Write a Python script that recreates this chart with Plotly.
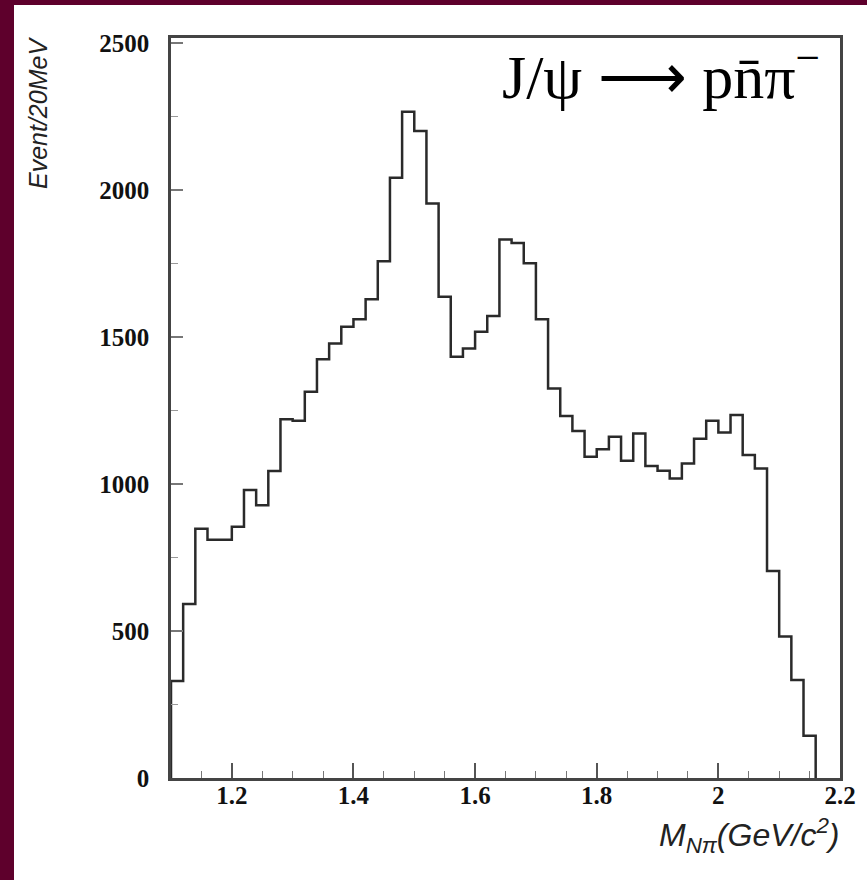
import plotly.graph_objects as go

# Histogram: J/psi -> p nbar pi-, M(N pi) spectrum, 20 MeV bins
BIN_START = 1.10
BIN_WIDTH = 0.02
counts = [330, 592, 848, 810, 810, 855, 980, 928, 1044, 1220,
          1215, 1314, 1424, 1478, 1535, 1560, 1628, 1758, 2042, 2266,
          2201, 1954, 1637, 1433, 1461, 1518, 1571, 1832, 1820, 1751,
          1560, 1325, 1231, 1180, 1093, 1118, 1161, 1079, 1172, 1061,
          1045, 1019, 1070, 1154, 1215, 1175, 1235, 1099, 1053, 704,
          481, 333, 144]

x_ticks = [1.2, 1.4, 1.6, 1.8, 2.0, 2.2]
x_tick_text = ["1.2", "1.4", "1.6", "1.8", "2", "2.2"]
y_ticks = [0, 500, 1000, 1500, 2000, 2500]

edges = [round(BIN_START + BIN_WIDTH * i, 2) for i in range(len(counts) + 1)]
xs = [edges[0]] + edges + [edges[-1]]
ys = [0] + counts + [counts[-1], 0]

W, H = 867, 880
L, R, T, B = 171, 27, 38, 102
pw, ph = W - L - R, H - T - B

def px(xp):
    return (xp - L) / pw

def py(yp):
    return (H - B - yp) / ph

fig = go.Figure()
fig.add_trace(go.Scatter(
    x=xs, y=ys, mode="lines", line=dict(color="#2a2a2a", width=2.5, shape="hv"),
    hoverinfo="skip", showlegend=False,
))

tickfont = dict(family="Liberation Serif, Times New Roman, serif", size=25,
                color="#111111", weight="bold")

fig.update_layout(
    width=W, height=H,
    margin=dict(l=L, r=R, t=T, b=B, pad=0),
    paper_bgcolor="#5e002c",
    plot_bgcolor="white",
    showlegend=False,
    xaxis=dict(
        range=[1.1, 2.2], tickmode="array", tickvals=x_ticks, ticktext=x_tick_text,
        ticks="inside", ticklen=15, tickwidth=1.5, tickcolor="#555",
        showline=True, linecolor="#444", linewidth=2.5, mirror=True,
        showgrid=False, zeroline=False, tickfont=tickfont,
        minor=dict(dtick=0.05, tick0=1.1, ticks="inside", ticklen=7,
                   tickwidth=1, tickcolor="#777", showgrid=False),
        ticklabelstandoff=-7,
    ),
    yaxis=dict(
        range=[0, 2517], tickmode="array", tickvals=y_ticks,
        ticktext=[str(v) for v in y_ticks],
        ticks="inside", ticklen=12, tickwidth=1.5, tickcolor="#777",
        showline=True, linecolor="#444", linewidth=2.5, mirror=True,
        showgrid=False, zeroline=False, tickfont=tickfont,
        minor=dict(dtick=250, tick0=0, ticks="inside", ticklen=7,
                   tickwidth=1, tickcolor="#999", showgrid=False),
        ticklabelstandoff=14,
    ),
    shapes=[dict(type="rect", xref="paper", yref="paper",
                 x0=px(14), x1=px(W + 20), y0=py(H + 20), y1=py(5),
                 fillcolor="white", line=dict(width=0), layer="below")],
    annotations=[
        dict(text="<i>Event/20MeV</i>", xref="paper", yref="paper",
             x=px(38), y=py(35), xanchor="center", yanchor="top",
             textangle=-90, showarrow=False,
             font=dict(family="Liberation Sans, Arial, sans-serif", size=25, color="#222")),
        dict(text="<i>M<sub>Nπ</sub>(GeV/c<sup>2</sup>)</i>", xref="paper", yref="paper",
             x=px(842), y=py(835), xanchor="right", yanchor="middle",
             showarrow=False,
             font=dict(family="Liberation Sans, Arial, sans-serif", size=32, color="#222")),
        dict(text="J/ψ ⟶ pn\u0304π<sup>−</sup>", xref="paper", yref="paper",
             x=px(822), y=py(72), xanchor="right", yanchor="middle",
             showarrow=False,
             font=dict(family="Liberation Serif, Times New Roman, serif", size=62, color="#000")),
    ],
)

fig.write_html("out.html")
